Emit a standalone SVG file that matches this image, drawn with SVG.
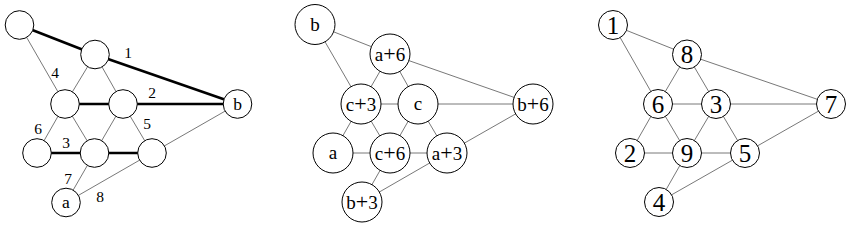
<svg xmlns="http://www.w3.org/2000/svg" width="855" height="231" viewBox="0 0 855 231">
<style>
.e{stroke:#555;stroke-width:0.8;fill:none}
.t{stroke:#000;stroke-width:2.6;fill:none}
circle{fill:#fff;stroke:#000;stroke-width:1}
text{font-family:"Liberation Serif","Times New Roman",serif;fill:#000;text-anchor:middle}
.s{font-size:17.5px}
.m{font-size:19px}
.p{font-size:22px}
.l{font-size:25px}
.el{font-size:15.5px}
</style>
<rect width="855" height="231" fill="#fff"/>
<g id="connectors">
<line class="t" x1="19.5" y1="25" x2="95" y2="54.5"/>
<line class="t" x1="95" y1="54.5" x2="237.5" y2="104"/>
<line class="t" x1="65" y1="104" x2="237.5" y2="104"/>
<line class="t" x1="37" y1="153" x2="152" y2="153"/>
<line class="e" x1="19.5" y1="25" x2="65" y2="104"/>
<line class="e" x1="95" y1="54.5" x2="65" y2="104"/>
<line class="e" x1="95" y1="54.5" x2="123" y2="104"/>
<line class="e" x1="65" y1="104" x2="37" y2="153"/>
<line class="e" x1="65" y1="104" x2="94.5" y2="153"/>
<line class="e" x1="123" y1="104" x2="94.5" y2="153"/>
<line class="e" x1="123" y1="104" x2="152" y2="153"/>
<line class="e" x1="152" y1="153" x2="237.5" y2="104"/>
<line class="e" x1="94.5" y1="153" x2="66" y2="202.5"/>
<line class="e" x1="66" y1="202.5" x2="152" y2="153"/>
<line class="e" x1="315" y1="24.5" x2="390" y2="54"/>
<line class="e" x1="315" y1="24.5" x2="361" y2="104"/>
<line class="e" x1="390" y1="54" x2="361" y2="104"/>
<line class="e" x1="390" y1="54" x2="418" y2="104"/>
<line class="e" x1="390" y1="54" x2="533" y2="104"/>
<line class="e" x1="361" y1="104" x2="533" y2="104"/>
<line class="e" x1="361" y1="104" x2="333" y2="153"/>
<line class="e" x1="361" y1="104" x2="390" y2="153"/>
<line class="e" x1="418" y1="104" x2="390" y2="153"/>
<line class="e" x1="418" y1="104" x2="447" y2="153"/>
<line class="e" x1="333" y1="153" x2="447" y2="153"/>
<line class="e" x1="447" y1="153" x2="533" y2="104"/>
<line class="e" x1="390" y1="153" x2="362" y2="202"/>
<line class="e" x1="362" y1="202" x2="447" y2="153"/>
<line class="e" x1="613" y1="25" x2="687" y2="54.5"/>
<line class="e" x1="613" y1="25" x2="658" y2="104"/>
<line class="e" x1="687" y1="54.5" x2="658" y2="104"/>
<line class="e" x1="687" y1="54.5" x2="716" y2="104"/>
<line class="e" x1="687" y1="54.5" x2="831" y2="104"/>
<line class="e" x1="658" y1="104" x2="831" y2="104"/>
<line class="e" x1="658" y1="104" x2="630" y2="153"/>
<line class="e" x1="658" y1="104" x2="687" y2="153"/>
<line class="e" x1="716" y1="104" x2="687" y2="153"/>
<line class="e" x1="716" y1="104" x2="745" y2="153"/>
<line class="e" x1="630" y1="153" x2="745" y2="153"/>
<line class="e" x1="745" y1="153" x2="831" y2="104"/>
<line class="e" x1="687" y1="153" x2="659" y2="202"/>
<line class="e" x1="659" y1="202" x2="745" y2="153"/>
</g>
<g id="edge-labels">
<text class="el" x="128" y="58">1</text>
<text class="el" x="152" y="98">2</text>
<text class="el" x="66" y="148">3</text>
<text class="el" x="55" y="78">4</text>
<text class="el" x="147" y="129">5</text>
<text class="el" x="38" y="134">6</text>
<text class="el" x="68" y="184">7</text>
<text class="el" x="100" y="202">8</text>
</g>
<g id="p1-tl"><circle cx="19.5" cy="25" r="14.3"/></g>
<g id="p1-t"><circle cx="95" cy="54.5" r="14.3"/></g>
<g id="p1-ml"><circle cx="65" cy="104" r="14.3"/></g>
<g id="p1-mr"><circle cx="123" cy="104" r="14.3"/></g>
<g id="p1-b"><circle cx="237.5" cy="104" r="14.3"/><text class="s" x="237.5" y="110">b</text></g>
<g id="p1-bl"><circle cx="37" cy="153" r="14.3"/></g>
<g id="p1-bm"><circle cx="94.5" cy="153" r="14.3"/></g>
<g id="p1-br"><circle cx="152" cy="153" r="14.3"/></g>
<g id="p1-a"><circle cx="66" cy="202.5" r="14.3"/><text class="s" x="66" y="208">a</text></g>
<g id="p2-b"><circle cx="315" cy="24.5" r="20"/><text class="m" x="315" y="30.5">b</text></g>
<g id="p2-a6"><circle cx="390" cy="54" r="20"/><text class="m" x="390" y="60.5">a<tspan class="p">+</tspan>6</text></g>
<g id="p2-c3"><circle cx="361" cy="104" r="20"/><text class="m" x="361" y="110.5">c<tspan class="p">+</tspan>3</text></g>
<g id="p2-c"><circle cx="418" cy="104" r="20"/><text class="m" x="418" y="110">c</text></g>
<g id="p2-b6"><circle cx="533" cy="104" r="20"/><text class="m" x="533" y="110.5">b<tspan class="p">+</tspan>6</text></g>
<g id="p2-a"><circle cx="333" cy="153" r="20"/><text class="m" x="333" y="159">a</text></g>
<g id="p2-c6"><circle cx="390" cy="153" r="20"/><text class="m" x="390" y="159.5">c<tspan class="p">+</tspan>6</text></g>
<g id="p2-a3"><circle cx="447" cy="153" r="20"/><text class="m" x="447" y="159.5">a<tspan class="p">+</tspan>3</text></g>
<g id="p2-b3"><circle cx="362" cy="202" r="20"/><text class="m" x="362" y="208.5">b<tspan class="p">+</tspan>3</text></g>
<g id="p3-1"><circle cx="613" cy="25" r="14.5"/><text class="l" x="613" y="33.7">1</text></g>
<g id="p3-8"><circle cx="687" cy="54.5" r="14.5"/><text class="l" x="687" y="63.2">8</text></g>
<g id="p3-6"><circle cx="658" cy="104" r="14.5"/><text class="l" x="658" y="112.7">6</text></g>
<g id="p3-3"><circle cx="716" cy="104" r="14.5"/><text class="l" x="716" y="112.7">3</text></g>
<g id="p3-7"><circle cx="831" cy="104" r="14.5"/><text class="l" x="831" y="112.7">7</text></g>
<g id="p3-2"><circle cx="630" cy="153" r="14.5"/><text class="l" x="630" y="161.7">2</text></g>
<g id="p3-9"><circle cx="687" cy="153" r="14.5"/><text class="l" x="687" y="161.7">9</text></g>
<g id="p3-5"><circle cx="745" cy="153" r="14.5"/><text class="l" x="745" y="161.7">5</text></g>
<g id="p3-4"><circle cx="659" cy="202" r="14.5"/><text class="l" x="659" y="210.7">4</text></g>
</svg>
